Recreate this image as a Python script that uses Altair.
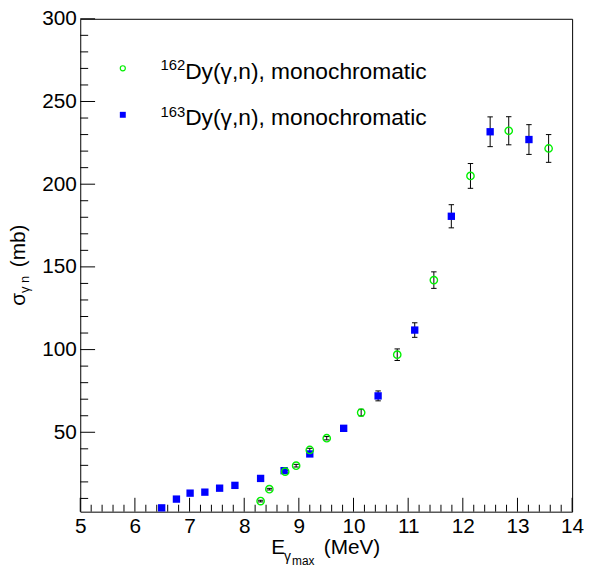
import altair as alt
import pandas as pd

FONT = "Liberation Sans"

# 162Dy(gamma,n) monochromatic (green open circles)
e162 = [8.30, 8.46, 8.75, 8.95, 9.20, 9.51, 10.14, 10.80, 11.47, 12.14, 12.84, 13.57]
s162 = [8.4, 15.6, 26.2, 29.8, 39.3, 46.4, 61.9, 96.9, 142.0, 205.0, 232.3, 221.6]
d162 = [0.5, 0.5, 0.8, 0.8, 1.0, 1.0, 2.0, 3.5, 5.0, 7.5, 8.5, 8.4]

# 163Dy(gamma,n) monochromatic (blue filled squares)
e163 = [6.49, 6.76, 7.01, 7.28, 7.55, 7.83, 8.30, 8.73, 9.20, 9.82, 10.45, 11.12, 11.79, 12.50, 13.21]
s163 = [4.3, 9.6, 13.2, 13.8, 16.2, 17.9, 22.1, 26.8, 36.9, 52.4, 72.0, 111.8, 180.6, 231.7, 227.0]
d163 = [0.3, 0.4, 0.5, 0.5, 0.6, 0.6, 0.8, 1.0, 1.2, 1.5, 3.0, 4.4, 7.0, 9.0, 9.0]

x_major = [5, 6, 7, 8, 9, 10, 11, 12, 13, 14]
x_minor = [round(5 + 0.2 * i, 1) for i in range(46) if i % 5 != 0]
y_major = [50, 100, 150, 200, 250, 300]
y_minor = [v for v in range(10, 300, 10) if v % 50 != 0]

TOP = 8
W, H = 497, 498

df162 = pd.DataFrame({"E": e162, "s": s162, "lo": [a - b for a, b in zip(s162, d162)],
                      "hi": [a + b for a, b in zip(s162, d162)]})
df163 = pd.DataFrame({"E": e163, "s": s163, "lo": [a - b for a, b in zip(s163, d163)],
                      "hi": [a + b for a, b in zip(s163, d163)]})
dferr = pd.concat([df162, df163], ignore_index=True)

xs = alt.Scale(domain=[5, 14], nice=False, zero=False)
ys = alt.Scale(domain=[2, 300], nice=False, zero=False)
xaxis = alt.Axis(values=x_major, title=None, ticks=False, domain=False, grid=False,
                 labelFontSize=21, labelPadding=4, labelFlush=False, labelOverlap=False,
                 labelColor="black", labelFont=FONT)
yaxis = alt.Axis(values=y_major, title=None, ticks=False, domain=False, grid=False,
                 labelFontSize=21, labelPadding=4, labelFlush=False, labelOverlap=False,
                 labelColor="black", labelFont=FONT)

X = lambda f: alt.X(f, type="quantitative", scale=xs, axis=xaxis)
Y = lambda f: alt.Y(f, type="quantitative", scale=ys, axis=yaxis)

errbars = alt.Chart(dferr).mark_rule(color="black", strokeWidth=1).encode(
    x=X("E"), y=Y("lo"), y2="hi")
cap_lo = alt.Chart(dferr).mark_point(shape="M-1,0L1,0", size=30, filled=False,
                                     color="black", strokeWidth=1, opacity=1).encode(x=X("E"), y=Y("lo"))
cap_hi = alt.Chart(dferr).mark_point(shape="M-1,0L1,0", size=30, filled=False,
                                     color="black", strokeWidth=1, opacity=1).encode(x=X("E"), y=Y("hi"))

pts162 = alt.Chart(df162).mark_point(shape="circle", filled=False, color="#00f000", size=55,
                                     strokeWidth=1.4, opacity=1).encode(x=X("E"), y=Y("s"))
pts163 = alt.Chart(df163).mark_point(shape="square", filled=True, color="#0000ff", size=55,
                                     opacity=1).encode(x=X("E"), y=Y("s"))

xmaj = alt.Chart(pd.DataFrame({"v": x_major})).mark_rule(color="black").encode(
    x=X("v"), y=alt.value(H - 14), y2=alt.value(H))
xmin = alt.Chart(pd.DataFrame({"v": x_minor})).mark_rule(color="black").encode(
    x=X("v"), y=alt.value(H - 7), y2=alt.value(H))
ymaj = alt.Chart(pd.DataFrame({"v": y_major})).mark_rule(color="black").encode(
    y=Y("v"), x=alt.value(0), x2=alt.value(15))
ymin = alt.Chart(pd.DataFrame({"v": y_minor})).mark_rule(color="black").encode(
    y=Y("v"), x=alt.value(0), x2=alt.value(8))

one = alt.Data(values=[{"a": 1}])


def txt(s, x, y, size, angle=0):
    kw = dict(text=s, fontSize=size, font=FONT, color="black", align="left", baseline="alphabetic")
    if angle:
        kw["angle"] = angle
    return alt.Chart(one).mark_text(**kw).encode(x=alt.value(x), y=alt.value(y - (TOP - 4)))


leg_c = alt.Chart(one).mark_point(shape="circle", filled=False, color="#00f000", size=26,
                                  strokeWidth=1.2, opacity=1).encode(x=alt.value(43), y=alt.value(54 - (TOP - 4)))
leg_s = alt.Chart(one).mark_point(shape="square", filled=True, color="#0000ff", size=36,
                                  opacity=1).encode(x=alt.value(43), y=alt.value(101 - (TOP - 4)))

texts = [
    txt("162", 81, 56, 15),
    txt("Dy(γ,n), monochromatic", 106, 65, 23),
    txt("163", 81, 103, 15),
    txt("Dy(γ,n), monochromatic", 106, 111, 23),
    # x title
    txt("E", 193, 545, 21),
    txt("γ", 206, 552, 14),
    txt("max", 214, 556, 12),
    txt("(MeV)", 246, 545, 21),
    # y title (rotated)
    txt("σ", -56, 294, 21, 270),
    txt("γ n", -52, 281, 13, 270),
    txt("(mb)", -56, 255, 21, 270),
]

chart = alt.layer(
    errbars, cap_lo, cap_hi, pts163, pts162, xmaj, xmin, ymaj, ymin, leg_c, leg_s, *texts
).properties(
    width=W, height=H,
    padding={"left": 73, "top": TOP, "right": 12, "bottom": 53},
    autosize=alt.AutoSizeParams(type="none"),
    background="white",
).configure_view(stroke="black", strokeWidth=1)

chart.save("out.html", embed_options={"renderer": "svg", "actions": False})
